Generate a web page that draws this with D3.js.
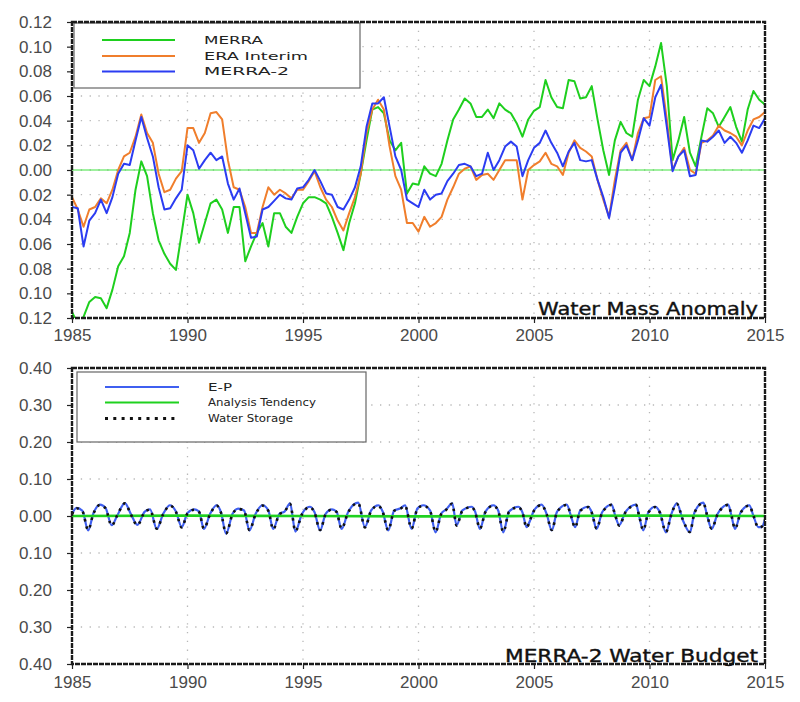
<!DOCTYPE html>
<html>
<head>
<meta charset="utf-8">
<script src="https://cdn.jsdelivr.net/npm/d3@7"></script>
<style>
  body { margin: 0; background: #fff; }
  svg { display: block; }
</style>
</head>
<body>
<div id="chart"></div>
<script>

// x axis ticks (years), shared by both panels
let xTicks = [1985, 1990, 1995, 2000, 2005, 2010, 2015];
let topTicks = [0.12, 0.10, 0.08, 0.06, 0.04, 0.02, 0.00, -0.02, -0.04, -0.06, -0.08, -0.10, -0.12];
let botTicks = [0.4, 0.3, 0.2, 0.1, 0.0, -0.1, -0.2, -0.3, -0.4];

// top panel: quarterly values starting 1985.0, one row per year
let merra = [
  -0.115, -0.125, -0.119, -0.107,
  -0.103, -0.104, -0.112, -0.097,
  -0.078, -0.070, -0.051, -0.016,
   0.007, -0.005, -0.035, -0.057,
  -0.068, -0.076, -0.081, -0.051,
  -0.020, -0.035, -0.059, -0.043,
  -0.027, -0.024, -0.032, -0.051,
  -0.030, -0.030, -0.074, -0.062,
  -0.051, -0.043, -0.062, -0.035,
  -0.035, -0.046, -0.051, -0.038,
  -0.027, -0.022, -0.022, -0.024,
  -0.027, -0.038, -0.051, -0.065,
  -0.043, -0.027, -0.003,  0.024,
   0.049,  0.051,  0.046,  0.024,
   0.016,  0.022, -0.019, -0.011,
  -0.012,  0.003, -0.003, -0.005,
   0.005,  0.024,  0.041,  0.049,
   0.058,  0.054,  0.043,  0.043,
   0.049,  0.042,  0.054,  0.049,
   0.046,  0.038,  0.027,  0.041,
   0.048,  0.051,  0.073,  0.059,
   0.051,  0.050,  0.073,  0.072,
   0.058,  0.059,  0.068,  0.041,
   0.016, -0.004,  0.024,  0.039,
   0.030,  0.027,  0.057,  0.073,
   0.068,  0.084,  0.103,  0.068,
   0.008,  0.024,  0.043,  0.014,
   0.003,  0.027,  0.050,  0.046,
   0.035,  0.043,  0.051,  0.035,
   0.023,  0.049,  0.064,  0.057,
   0.053
];

let eraInterim = [
  -0.022, -0.032, -0.046, -0.032,
  -0.030, -0.023, -0.027, -0.016,
   0.000,  0.011,  0.014,  0.027,
   0.045,  0.030,  0.022, -0.003,
  -0.018, -0.016, -0.007, -0.001,
   0.034,  0.034,  0.022,  0.030,
   0.046,  0.047,  0.041,  0.008,
  -0.014, -0.016, -0.030, -0.051,
  -0.051, -0.030, -0.014, -0.020,
  -0.016, -0.019, -0.023, -0.016,
  -0.016, -0.009, -0.001, -0.014,
  -0.024, -0.030, -0.041, -0.049,
  -0.035, -0.022, -0.003,  0.030,
   0.049,  0.057,  0.049,  0.019,
  -0.005, -0.016, -0.043, -0.043,
  -0.050, -0.038, -0.046, -0.043,
  -0.038, -0.024, -0.014, -0.003,
   0.001,  0.003, -0.008, -0.004,
  -0.003, -0.008,  0.000,  0.008,
   0.008,  0.008, -0.024,  0.000,
   0.004,  0.007,  0.014,  0.005,
   0.003, -0.004,  0.014,  0.024,
   0.018,  0.015,  0.011, -0.008,
  -0.024, -0.038, -0.008,  0.016,
   0.022,  0.008,  0.030,  0.042,
   0.043,  0.073,  0.076,  0.041,
   0.000,  0.011,  0.018,  0.000,
  -0.003,  0.022,  0.024,  0.028,
   0.036,  0.032,  0.030,  0.027,
   0.020,  0.032,  0.041,  0.043,
   0.047
];

let merra2 = [
  -0.030, -0.031, -0.062, -0.041,
  -0.035, -0.024, -0.035, -0.022,
  -0.003,  0.005,  0.004,  0.024,
   0.043,  0.026,  0.011, -0.014,
  -0.032, -0.031, -0.023, -0.016,
   0.020,  0.016,  0.001,  0.008,
   0.014,  0.008,  0.011, -0.011,
  -0.024, -0.015, -0.035, -0.055,
  -0.054, -0.032, -0.030, -0.025,
  -0.020, -0.023, -0.024, -0.015,
  -0.014, -0.008,  0.000, -0.009,
  -0.019, -0.020, -0.030, -0.032,
  -0.024, -0.014,  0.003,  0.035,
   0.054,  0.054,  0.059,  0.035,
   0.011,  0.000, -0.024, -0.027,
  -0.030, -0.016, -0.024, -0.020,
  -0.019, -0.009, -0.003,  0.004,
   0.005,  0.003, -0.005, -0.003,
   0.014,  0.000,  0.008,  0.019,
   0.023,  0.019, -0.005,  0.008,
   0.018,  0.022,  0.032,  0.022,
   0.014,  0.003,  0.015,  0.022,
   0.008,  0.007,  0.008, -0.008,
  -0.022, -0.039, -0.014,  0.014,
   0.020,  0.008,  0.024,  0.042,
   0.036,  0.059,  0.069,  0.035,
  -0.001,  0.011,  0.016, -0.005,
  -0.004,  0.024,  0.023,  0.027,
   0.032,  0.022,  0.027,  0.022,
   0.014,  0.024,  0.036,  0.034,
   0.042
];

// bottom panel: times (decimal year) of the turning points
let budgetTimes = [
  1985.00, 1985.20, 1985.45, 1985.70, 1985.92,
  1986.21, 1986.45, 1986.72, 1986.95,
  1987.29, 1987.55, 1987.83,
  1988.15, 1988.38, 1988.67, 1988.95,
  1989.24, 1989.50, 1989.75,
  1990.00, 1990.30, 1990.50, 1990.71, 1990.98,
  1991.26, 1991.45, 1991.67, 1991.95,
  1992.19, 1992.45, 1992.68, 1992.95,
  1993.25, 1993.50, 1993.71, 1993.98,
  1994.20, 1994.44, 1994.67, 1994.95,
  1995.30, 1995.50, 1995.74, 1995.98,
  1996.25, 1996.45, 1996.67, 1996.95,
  1997.39, 1997.68, 1997.95,
  1998.26, 1998.45, 1998.69, 1998.95,
  1999.20, 1999.42, 1999.70, 1999.95,
  2000.21, 2000.50, 2000.74, 2000.98,
  2001.20, 2001.46, 2001.65, 2001.90,
  2002.30, 2002.45, 2002.66, 2002.90,
  2003.24, 2003.45, 2003.67, 2003.92,
  2004.32, 2004.50, 2004.68, 2004.83,
  2005.00, 2005.33, 2005.55, 2005.77,
  2006.00, 2006.42, 2006.60, 2006.78,
  2007.00, 2007.35, 2007.50, 2007.71, 2007.95,
  2008.36, 2008.52, 2008.69, 2008.95,
  2009.42, 2009.55, 2009.73, 2009.95,
  2010.24, 2010.45, 2010.71, 2010.95,
  2011.18, 2011.45, 2011.75, 2011.95,
  2012.33, 2012.50, 2012.69, 2012.95,
  2013.41, 2013.55, 2013.70, 2013.95,
  2014.32, 2014.50, 2014.71, 2014.85, 2015.00
];

let eMinusP = [
   0.006,  0.022,  0.014, -0.039,  0.006,
   0.031,  0.022, -0.025,  0.000,
   0.035,  0.005, -0.024,
   0.012,  0.018, -0.035,  0.006,
   0.029,  0.012, -0.030,
   0.008,  0.018,  0.012, -0.035,  0.006,
   0.029,  0.010, -0.048,  0.006,
   0.020,  0.015, -0.039,  0.006,
   0.029,  0.015, -0.035,  0.006,
   0.012,  0.034, -0.042,  0.005,
   0.025,  0.010, -0.039,  0.006,
   0.018,  0.012, -0.035,  0.010,
   0.036, -0.030,  0.015,
   0.029,  0.012, -0.039,  0.015,
   0.020,  0.029, -0.035,  0.020,
   0.029,  0.015, -0.044,  0.006,
   0.018,  0.034, -0.025,  0.015,
   0.025,  0.012, -0.035,  0.012,
   0.029,  0.015, -0.044,  0.012,
   0.025,  0.010, -0.030, -0.012,
   0.015,  0.031,  0.005, -0.039,
   0.012,  0.031,  0.000, -0.030,
   0.015,  0.025,  0.010, -0.035,  0.010,
   0.031,  0.000, -0.025,  0.010,
   0.031,  0.000, -0.039,  0.010,
   0.025,  0.010, -0.044,  0.006,
   0.034, -0.012, -0.044,  0.010,
   0.036,  0.000, -0.035,  0.006,
   0.031,  0.000, -0.035,  0.010,
   0.029,  0.000, -0.030, -0.030, -0.010
];

let waterStorage = [
   0.005,  0.021,  0.013, -0.038,  0.005,
   0.030,  0.021, -0.026,  0.001,
   0.034,  0.004, -0.025,
   0.011,  0.017, -0.034,  0.005,
   0.028,  0.011, -0.031,
   0.007,  0.017,  0.011, -0.034,  0.005,
   0.028,  0.009, -0.047,  0.005,
   0.019,  0.014, -0.038,  0.005,
   0.028,  0.014, -0.036,  0.005,
   0.011,  0.033, -0.041,  0.004,
   0.024,  0.009, -0.038,  0.005,
   0.017,  0.011, -0.034,  0.009,
   0.035, -0.031,  0.014,
   0.028,  0.011, -0.038,  0.014,
   0.019,  0.028, -0.034,  0.019,
   0.028,  0.014, -0.043,  0.005,
   0.017,  0.033, -0.026,  0.014,
   0.024,  0.011, -0.034,  0.011,
   0.028,  0.014, -0.043,  0.011,
   0.024,  0.009, -0.031, -0.011,
   0.014,  0.030,  0.004, -0.038,
   0.011,  0.030,  0.001, -0.031,
   0.014,  0.024,  0.009, -0.034,  0.009,
   0.030,  0.001, -0.026,  0.009,
   0.030,  0.001, -0.038,  0.009,
   0.024,  0.009, -0.043,  0.005,
   0.033, -0.011, -0.043,  0.009,
   0.035,  0.001, -0.034,  0.005,
   0.030,  0.001, -0.034,  0.009,
   0.028,  0.001, -0.031, -0.029, -0.011
];

let tendencyTimes = [1985, 1990, 1995, 2000, 2005, 2010, 2015];
let tendency = [0.000, 0.001, 0.000, -0.001, 0.000, 0.001, 0.000];

let svg = d3.select('#chart')
  .append('svg')
    .attr('width', 800)
    .attr('height', 702)
;

let x = d3.scaleLinear().domain([1985, 2015]).range([72, 765]);
let yTop = d3.scaleLinear().domain([-0.12, 0.12]).range([318, 22]);
let yBot = d3.scaleLinear().domain([-0.4, 0.4]).range([664, 368]);

// clip so the lines stay inside the frame
function addClip(id, y) {
  svg.append('clipPath').attr('id', id)
    .append('rect')
      .attr('x', x.range()[0])
      .attr('y', y.range()[1])
      .attr('width', x.range()[1] - x.range()[0])
      .attr('height', y.range()[0] - y.range()[1])
  ;
}

function grid(y, ticks) {
  let g = svg.append('g').attr('class', 'grid');
  g.selectAll('.hgrid').data(ticks.slice(1, -1)).enter()
    .append('line')
      .attr('x1', x.range()[0])
      .attr('x2', x.range()[1])
      .attr('y1', function(d) { return y(d); })
      .attr('y2', function(d) { return y(d); })
  ;
  g.selectAll('.vgrid').data(xTicks.slice(1, -1)).enter()
    .append('line')
      .attr('x1', function(d) { return x(d); })
      .attr('x2', function(d) { return x(d); })
      .attr('y1', y.range()[1])
      .attr('y2', y.range()[0])
  ;
  g.selectAll('line')
      .attr('stroke', '#b8b8b8')
      .attr('stroke-width', 1.3)
      .attr('stroke-dasharray', '1.3,7.5')
  ;
}

function axes(y, ticks, xPad) {
  let ya = svg.append('g')
      .attr('transform', 'translate(' + x.range()[0] + ',0)')
      .call(d3.axisLeft(y).tickValues(ticks).tickSize(5).tickPadding(15)
        .tickFormat(function(d) { return Math.abs(d).toFixed(2); }))
  ;
  let xa = svg.append('g')
      .attr('transform', 'translate(0,' + y.range()[0] + ')')
      .call(d3.axisBottom(x).tickValues(xTicks).tickSize(5).tickPadding(xPad)
        .tickFormat(d3.format('d')))
  ;
  [ya, xa].forEach(function(a) {
    a.select('.domain').remove();
    a.selectAll('.tick line').attr('stroke', '#222').attr('stroke-width', 1.2);
    a.selectAll('.tick text')
        .attr('fill', '#4a4a4a')
        .attr('font-family', 'Liberation Sans, Arial, sans-serif')
        .attr('font-size', 17)
    ;
  });
}

function frame(y) {
  svg.append('rect')
      .attr('x', x.range()[0])
      .attr('y', y.range()[1])
      .attr('width', x.range()[1] - x.range()[0])
      .attr('height', y.range()[0] - y.range()[1])
      .attr('fill', 'none')
      .attr('stroke', '#1a1a1a')
      .attr('stroke-width', 2.4)
      .attr('stroke-dasharray', '5,1')
  ;
}

function title(txt, yBase, width) {
  svg.append('text')
      .text(txt)
      .attr('x', 758)
      .attr('y', yBase)
      .attr('text-anchor', 'end')
      .attr('textLength', width)
      .attr('lengthAdjust', 'spacingAndGlyphs')
      .attr('font-family', 'DejaVu Sans, sans-serif')
      .attr('font-size', 18)
      .attr('fill', '#111')
      .attr('stroke', '#111')
      .attr('stroke-width', 0.4)
  ;
}

function legend(box, rows, fontSize) {
  svg.append('rect')
      .attr('x', box[0])
      .attr('y', box[1])
      .attr('width', box[2])
      .attr('height', box[3])
      .attr('fill', '#fff')
      .attr('stroke', '#666')
      .attr('stroke-width', 1.2)
  ;
  let item = svg.selectAll('.leg' + box[1]).data(rows).enter()
    .append('g')
      .attr('class', 'leg' + box[1])
      .attr('transform', function(d) { return 'translate(0,' + d.y + ')'; })
  ;
  item.append('line')
      .attr('x1', function(d) { return d.x1; })
      .attr('x2', function(d) { return d.x2; })
      .attr('stroke', function(d) { return d.color; })
      .attr('stroke-width', function(d) { return d.width; })
      .attr('stroke-dasharray', function(d) { return d.dash; })
  ;
  item.append('text')
      .text(function(d) { return d.label; })
      .attr('x', function(d) { return d.tx; })
      .attr('y', fontSize * 0.36)
      .attr('textLength', function(d) { return d.tw; })
      .attr('lengthAdjust', 'spacingAndGlyphs')
      .attr('font-family', 'DejaVu Sans, sans-serif')
      .attr('font-size', fontSize)
      .attr('fill', '#222')
  ;
}

// ---------- top panel: Water Mass Anomaly ----------
addClip('clipTop', yTop);
grid(yTop, topTicks);

svg.append('line')
    .attr('x1', x.range()[0])
    .attr('x2', x.range()[1])
    .attr('y1', yTop(0))
    .attr('y2', yTop(0))
    .attr('stroke', '#3ee23e')
    .attr('stroke-width', 1)
;

let quarterLine = d3.line()
  .x(function(d, i) { return x(1985 + i / 4); })
  .y(function(d) { return yTop(d); })
;

let topSeries = [
  {values: merra, color: '#1ecf1e'},
  {values: eraInterim, color: '#f07e2c'},
  {values: merra2, color: '#2b3cf2'}
];

svg.append('g').attr('clip-path', 'url(#clipTop)')
  .selectAll('path').data(topSeries).enter()
  .append('path')
    .attr('d', function(d) { return quarterLine(d.values); })
    .attr('fill', 'none')
    .attr('stroke', function(d) { return d.color; })
    .attr('stroke-width', 2)
    .attr('stroke-linejoin', 'round')
;

axes(yTop, topTicks, 6);

legend([74, 23, 286, 65], [
  {y: 40, x1: 102, x2: 175, color: '#1ecf1e', width: 2, dash: null, label: 'MERRA', tx: 204, tw: 59},
  {y: 56, x1: 102, x2: 175, color: '#f07e2c', width: 2, dash: null, label: 'ERA Interim', tx: 204, tw: 104},
  {y: 71.5, x1: 102, x2: 175, color: '#2b3cf2', width: 2, dash: null, label: 'MERRA-2', tx: 204, tw: 85}
], 11);

frame(yTop);
title('Water Mass Anomaly', 315, 220);

// ---------- bottom panel: MERRA-2 Water Budget ----------
addClip('clipBot', yBot);
grid(yBot, botTicks);

let budgetLine = d3.line()
  .x(function(d, i) { return x(budgetTimes[i]); })
  .y(function(d) { return yBot(d); })
  .curve(d3.curveMonotoneX)
;

let tendLine = d3.line()
  .x(function(d, i) { return x(tendencyTimes[i]); })
  .y(function(d) { return yBot(d); })
;

let botG = svg.append('g').attr('clip-path', 'url(#clipBot)');

botG.append('path')
    .attr('d', budgetLine(eMinusP))
    .attr('fill', 'none')
    .attr('stroke', '#3f5ff0')
    .attr('stroke-width', 2.2)
;

botG.append('path')
    .attr('d', tendLine(tendency))
    .attr('fill', 'none')
    .attr('stroke', '#1fd11f')
    .attr('stroke-width', 2.6)
;

botG.append('path')
    .attr('d', budgetLine(waterStorage))
    .attr('fill', 'none')
    .attr('stroke', '#111')
    .attr('stroke-width', 2.6)
    .attr('stroke-dasharray', '2.5,5')
;

axes(yBot, botTicks, 7);

legend([77, 372, 289, 70], [
  {y: 387, x1: 105, x2: 179, color: '#3f5ff0', width: 2, dash: null, label: 'E-P', tx: 208, tw: 24},
  {y: 402.5, x1: 105, x2: 179, color: '#1fd11f', width: 2, dash: null, label: 'Analysis Tendency', tx: 208, tw: 108},
  {y: 418.5, x1: 105, x2: 179, color: '#111', width: 3, dash: '3,5.3', label: 'Water Storage', tx: 208, tw: 85}
], 11);

frame(yBot);
title('MERRA-2 Water Budget', 661.5, 253);

</script>
</body>
</html>
